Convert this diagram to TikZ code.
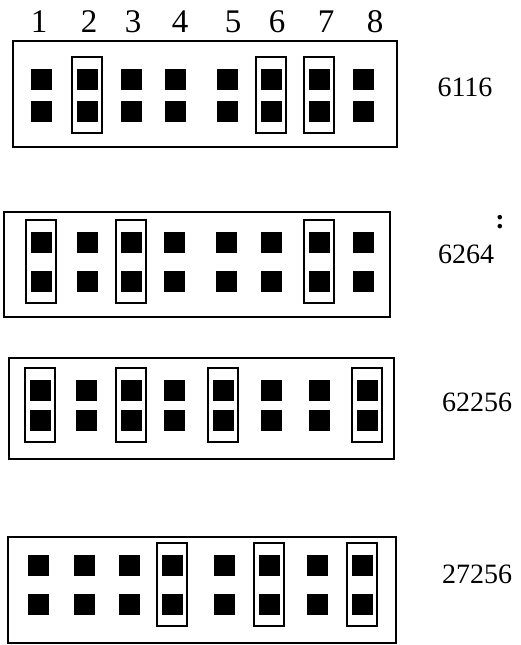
\documentclass[tikz,border=0pt]{standalone}
\usepackage{fontspec}
\setmainfont{Liberation Serif}
\usetikzlibrary{fit}

\begin{document}
\begin{tikzpicture}[x=1pt, y=-1pt,
    pad/.style={fill=black, minimum size=21pt, inner sep=0pt},
    jumper/.style={draw, line width=2.2pt, inner xsep=4.5pt, inner ysep=11pt},
    frame/.style={draw, line width=2.4pt},
    chip/.style={font=\fontsize{28}{30}\selectfont, inner sep=0pt},
    pinno/.style={font=\fontsize{33}{34}\selectfont, inner sep=0pt}]
  \useasboundingbox (0,0) rectangle (520,645);

  % pin numbers
  \foreach \c/\x in {1/39,2/89,3/133,4/180,5/233,6/277,7/326,8/375}
    \node[pinno] (pin\c) at (\x,22) {\c};

  % 6116
  \draw[frame] (13,41) rectangle (397,147);
  \foreach \c/\x in {1/41,2/87,3/131,4/175,5/227,6/271,7/319,8/363} {
    \node[pad] (a\c-t) at (\x,79) {};
    \node[pad] (a\c-b) at (\x,111) {};
  }
  \foreach \c in {2,6,7}
    \node[jumper, fit=(a\c-t)(a\c-b)] (ja\c) {};
  \node[chip] (ic1) at (465,87) {6116};

  % 6264
  \draw[frame] (4,212) rectangle (390,317);
  \foreach \c/\x in {1/41,2/87,3/131,4/174,5/226,6/271,7/319,8/363} {
    \node[pad] (b\c-t) at (\x,242) {};
    \node[pad] (b\c-b) at (\x,281) {};
  }
  \foreach \c in {1,3,7}
    \node[jumper, fit=(b\c-t)(b\c-b)] (jb\c) {};
  \node[chip] (ic2) at (466,254) {6264};
  \node[font=\fontsize{28}{28}\selectfont\bfseries, inner sep=0pt] (dot) at (500,222) {:};

  % 62256
  \draw[frame] (9,358) rectangle (394,459);
  \foreach \c/\x in {1/40,2/86,3/131,4/174,5/223,6/271,7/319,8/367} {
    \node[pad] (c\c-t) at (\x,390) {};
    \node[pad] (c\c-b) at (\x,420) {};
  }
  \foreach \c in {1,3,5,8}
    \node[jumper, fit=(c\c-t)(c\c-b)] (jc\c) {};
  \node[chip] (ic3) at (477,402) {62256};

  % 27256
  \draw[frame] (8,537) rectangle (396,643);
  \foreach \c/\x in {1/38,2/84,3/129,4/172,5/224,6/269,7/317,8/362} {
    \node[pad] (d\c-t) at (\x,565) {};
    \node[pad] (d\c-b) at (\x,604) {};
  }
  \foreach \c in {4,6,8}
    \node[jumper, fit=(d\c-t)(d\c-b)] (jd\c) {};
  \node[chip] (ic4) at (477,574) {27256};
\end{tikzpicture}
\end{document}
